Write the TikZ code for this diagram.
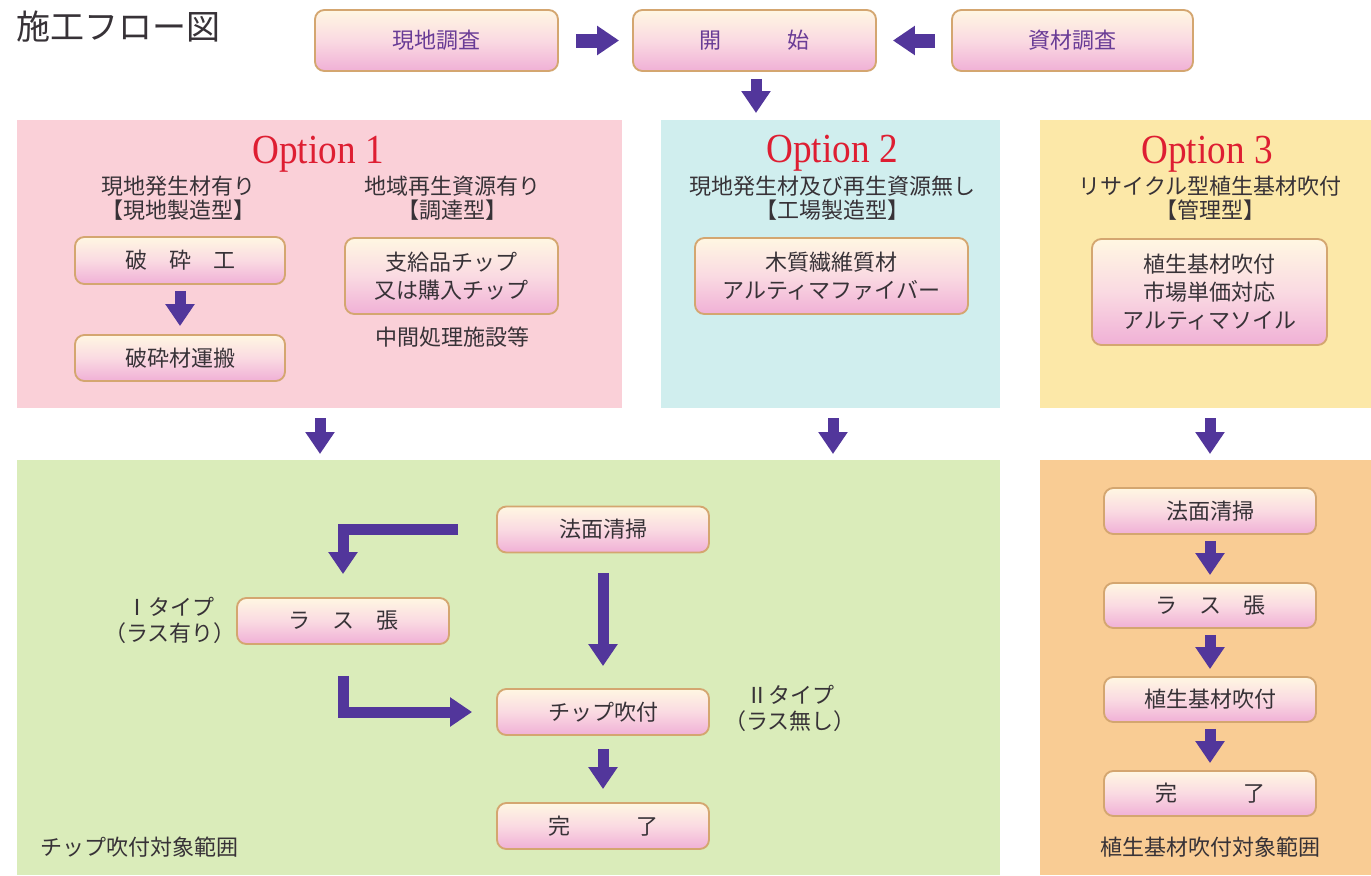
\documentclass[tikz,border=0pt]{standalone}
\usepackage{fontspec}
\setmainfont{Noto Sans CJK JP}
\newfontfamily\optfont{Liberation Serif}
\usetikzlibrary{arrows.meta,calc}
\definecolor{arrowc}{RGB}{82,54,155}
\definecolor{boxborder}{RGB}{212,166,112}
\definecolor{boxtop}{RGB}{255,247,226}
\definecolor{boxmid}{RGB}{250,218,226}
\definecolor{boxbot}{RGB}{240,176,214}
\definecolor{textc}{RGB}{55,50,55}
\definecolor{toptext}{RGB}{105,60,150}
\definecolor{optred}{RGB}{222,30,50}
\definecolor{opta}{RGB}{250,208,216}
\definecolor{optb}{RGB}{208,238,238}
\definecolor{optc}{RGB}{252,232,168}
\definecolor{greenc}{RGB}{218,236,186}
\definecolor{orangec}{RGB}{249,204,148}
\tikzset{
  sz/.style 2 args={minimum width=#1*0.75pt, minimum height=#2*0.75pt},
  box/.style={draw=boxborder, line width=1.4pt, rounded corners=7pt,
    top color=boxtop, bottom color=boxbot, middle color=boxmid,
    align=center, text=textc, inner sep=0pt,
    font=\fontsize{16.5}{21}\selectfont},
  topbox/.style={box, text=toptext},
  panel/.style={draw=none, inner sep=0pt, anchor=north west},
  lbl/.style={align=center, text=textc, inner sep=0pt, font=\fontsize{16.5}{18}\selectfont},
  optt/.style={text=optred, inner sep=0pt, font=\optfont\fontsize{31}{34}\selectfont},
  fat/.style={draw=arrowc, line width=8.25pt,
    -{Triangle[width=21pt,length=16.5pt]}},
  fattop/.style={fat, line width=10.5pt}
}
\begin{document}
\begin{tikzpicture}[x=0.75pt,y=-0.75pt]
\useasboundingbox (0,0) rectangle (1371,875);
\fill[white] (0,0) rectangle (1371,875);

% title
\node[anchor=west, inner sep=0pt, text=textc, font=\fontsize{25.5}{28}\selectfont] (title) at (16,27) {施工フロー図};

% top row
\node[topbox, sz={243}{61}] (genchi) at (436.5,40.5) {現地調査};
\node[topbox, sz={243}{61}] (kaishi) at (754.5,40.5) {開　　　始};
\node[topbox, sz={241}{61}] (shizai) at (1072.5,40.5) {資材調査};
\draw[fattop, shorten <=17*0.75pt, shorten >=13*0.75pt] (genchi) -- (kaishi);
\draw[fattop, shorten <=16*0.75pt, shorten >=16*0.75pt] (shizai) -- (kaishi);
\coordinate (kdown) at (756,113);
\draw[fat, shorten <=7*0.75pt] (kaishi.south -| kdown) -- (kdown);

% panels
\node[panel, fill=opta, sz={605}{288}] (opt1) at (17,120) {};
\node[panel, fill=optb, sz={339}{288}] (opt2) at (661,120) {};
\node[panel, fill=optc, sz={331}{288}] (opt3) at (1040,120) {};
\node[panel, fill=greenc, sz={983}{415}] (greenp) at (17,460) {};
\node[panel, fill=orangec, sz={331}{415}] (orangep) at (1040,460) {};

% option titles
\node[optt] (t1) at (318,154) {\scalebox{0.9}[1]{Option 1}};
\node[optt] (t2) at (832,153) {\scalebox{0.9}[1]{Option 2}};
\node[optt] (t3) at (1207,154) {\scalebox{0.9}[1]{Option 3}};

% option 1
\node[lbl] (s1a) at (178,198) {現地発生材有り\\【現地製造型】};
\node[lbl] (s1b) at (452,198) {地域再生資源有り\\【調達型】};
\node[box, sz={210}{47}] (hasai) at (180,260.5) {破　砕　工};
\node[box, sz={210}{46}] (unpan) at (180,358) {破砕材運搬};
\draw[fat, shorten <=6*0.75pt, shorten >=8*0.75pt] (hasai) -- (unpan);
\node[box, sz={213}{76}] (shikyu) at (451.5,276) {支給品チップ\\又は購入チップ};
\node[lbl] (chukan) at (452,337) {中間処理施設等};

% option 2
\node[lbl] (s2) at (832,198) {現地発生材及び再生資源無し\\【工場製造型】};
\node[box, sz={273}{76}] (mokushitsu) at (831.5,276) {木質繊維質材\\アルティマファイバー};

% option 3
\node[lbl] (s3) at (1210,198) {リサイクル型植生基材吹付\\【管理型】};
\node[box, sz={235}{106}] (shokusei) at (1209.5,292) {植生基材吹付\\市場単価対応\\アルティマソイル};

% panel to panel arrows
\coordinate (a1s) at (320,418); \coordinate (a1e) at (320,454);
\coordinate (a2s) at (833,418); \coordinate (a2e) at (833,454);
\coordinate (a3s) at (1210,418); \coordinate (a3e) at (1210,454);
\draw[fat] (a1s) -- (a1e);
\draw[fat] (a2s) -- (a2e);
\draw[fat] (a3s) -- (a3e);

% green panel flow
\node[box, sz={212}{46}] (hou1) at (603,529.5) {法面清掃};
\node[box, sz={212}{46}] (ras1) at (343,621) {ラ　ス　張};
\node[box, sz={212}{46}] (chip) at (603,712) {チップ吹付};
\node[box, sz={212}{46}] (kan1) at (603,826) {完　　　了};
\draw[fat, shorten <=38*0.75pt, shorten >=23*0.75pt] (hou1.west) -| (ras1.north);
\draw[fat, shorten <=20*0.75pt, shorten >=22*0.75pt] (hou1) -- (chip);
\draw[fat, shorten <=31*0.75pt, shorten >=24*0.75pt] (ras1.south) |- (chip.west);
\draw[fat, shorten <=13*0.75pt, shorten >=13*0.75pt] (chip) -- (kan1);
\node[lbl, font=\fontsize{16.5}{19.5}\selectfont] (type1) at (170,620) {Ⅰタイプ\\（ラス有り）};
\node[lbl, font=\fontsize{16.5}{19.5}\selectfont] (type2) at (790,708) {Ⅱタイプ\\（ラス無し）};
\node[lbl, anchor=west] (chiprange) at (40,847) {チップ吹付対象範囲};

% orange panel flow
\node[box, sz={212}{46}] (hou2) at (1210,511) {法面清掃};
\node[box, sz={212}{45}] (ras2) at (1210,605.5) {ラ　ス　張};
\node[box, sz={212}{45}] (shoku2) at (1210,699.5) {植生基材吹付};
\node[box, sz={212}{45}] (kan2) at (1210,793.5) {完　　　了};
\draw[fat, shorten <=6*0.75pt, shorten >=7*0.75pt] (hou2) -- (ras2);
\draw[fat, shorten <=6*0.75pt, shorten >=7*0.75pt] (ras2) -- (shoku2);
\draw[fat, shorten <=6*0.75pt, shorten >=7*0.75pt] (shoku2) -- (kan2);
\node[lbl] (shokurange) at (1210,847) {植生基材吹付対象範囲};
\end{tikzpicture}
\end{document}
